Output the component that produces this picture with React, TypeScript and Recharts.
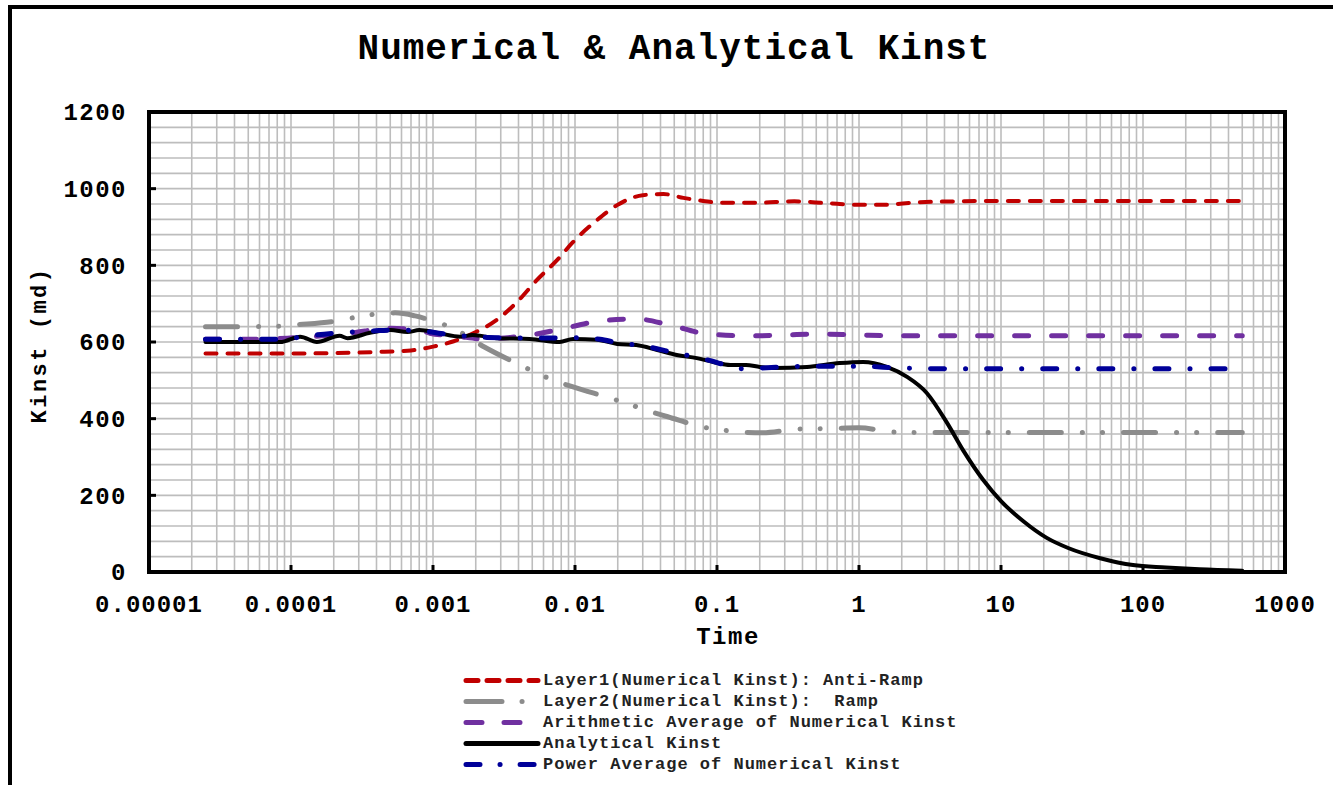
import React from 'react';
import { LineChart, Line, XAxis, YAxis, CartesianGrid, ReferenceArea, Legend, Label } from 'recharts';

// ---------- data ----------
const layer1Time = [2.5e-5, 5e-5, 1e-4, 2e-4, 4e-4, 7e-4, 1e-3, 1.4e-3, 1.9e-3, 2.8e-3, 3.9e-3, 5.4e-3, 7.5e-3, 9.7e-3, 0.0143, 0.0198, 0.03, 0.042, 0.058, 0.08, 0.105, 0.19, 0.35, 0.6, 1.0, 1.5, 2.5, 5, 10, 30, 100, 500];
const layer1Kinst = [570, 570, 570, 571, 574, 578, 588, 602, 622, 657, 704, 762, 814, 861, 918, 957, 983, 986, 976, 968, 963, 963, 967, 962, 958, 958, 964, 967, 968, 968, 968, 968];

const layer2Time = [2.5e-5, 5e-5, 8e-5, 1.1e-4, 2.1e-4, 2.9e-4, 4e-4, 5.4e-4, 7.5e-4, 1e-3, 1.36e-3, 2.3e-3, 4.1e-3, 5.4e-3, 7.3e-3, 9.7e-3, 0.0175, 0.024, 0.033, 0.045, 0.08, 0.11, 0.15, 0.21, 0.38, 0.6, 1.0, 1.8, 3, 10, 100, 500];
const layer2Kinst = [640, 640, 641, 645, 655, 665, 673, 676, 668, 655, 637, 587, 540, 519, 498, 483, 454, 438, 420, 405, 378, 370, 365, 363, 373, 374, 376, 365, 364, 364, 364, 364];

const arithTime = [2.5e-5, 5e-5, 9.4e-5, 1.5e-4, 2.6e-4, 5e-4, 8e-4, 9.5e-4, 1.5e-3, 2.25e-3, 3.5e-3, 4.8e-3, 9.2e-3, 0.015, 0.027, 0.047, 0.085, 0.17, 0.3, 0.5, 1, 2, 5, 500];
const arithKinst = [607, 607, 610, 615, 623, 636, 631, 623, 615, 608, 612, 618, 639, 655, 660, 644, 621, 616, 618, 621, 618, 616, 616, 616];

const analyticTime = [2.5e-5, 5e-5, 8.4e-5, 1.16e-4, 1.52e-4, 2.2e-4, 2.5e-4, 3.6e-4, 5e-4, 6.6e-4, 8e-4, 1.1e-3, 1.55e-3, 1.9e-3, 2.8e-3, 4.8e-3, 7.8e-3, 9.7e-3, 0.0143, 0.0198, 0.027, 0.038, 0.052, 0.072, 0.094, 0.124, 0.16, 0.2, 0.25, 0.43, 0.73, 1.07, 1.57, 2.18, 3.0, 4.17, 5.4, 7.5, 10, 14.3, 21, 30, 50, 85, 145, 250, 500];
const analyticKinst = [600, 600, 600, 614, 600, 616, 610, 624, 631, 626, 631, 623, 614, 618, 610, 608, 600, 608, 606, 595, 592, 579, 566, 558, 548, 540, 540, 535, 532, 535, 545, 548, 535, 509, 467, 389, 318, 240, 185, 133, 89, 62, 36, 18, 12, 7, 3];

const powerTime = [2.5e-5, 5e-5, 9e-5, 1.2e-4, 2e-4, 3.8e-4, 5.2e-4, 8e-4, 1.1e-3, 2.4e-3, 5e-3, 9.7e-3, 0.015, 0.02, 0.03, 0.05, 0.08, 0.12, 0.146, 0.2, 0.5, 1, 2, 5, 500];
const powerKinst = [607, 607, 607, 614, 623, 629, 631, 630, 623, 612, 610, 611, 607, 598, 590, 572, 556, 538, 530, 532, 537, 537, 532, 530, 530];

const seriesNames = [
  'Layer1(Numerical Kinst): Anti-Ramp',
  'Layer2(Numerical Kinst):  Ramp',
  'Arithmetic Average of Numerical Kinst',
  'Analytical Kinst',
  'Power Average of Numerical Kinst',
];

const xDecadeTicks = [0.00001, 0.0001, 0.001, 0.01, 0.1, 1, 10, 100, 1000];
const xDecadeLabels = ['0.00001', '0.0001', '0.001', '0.01', '0.1', '1', '10', '100', '1000'];
const yMajorTicks = [0, 200, 400, 600, 800, 1000, 1200];

// grid ticks (all 1..9 x 10^n, and every 40 md)
const xGridTicks: number[] = [];
for (let e = -5; e <= 2; e++) {
  for (let m = 1; m <= 9; m++) xGridTicks.push(Number((m * Math.pow(10, e)).toPrecision(6)));
}
xGridTicks.push(1000);
const yGridTicks: number[] = [];
for (let v = 0; v <= 1200; v += 40) yGridTicks.push(v);

const zip = (t: number[], k: number[]) => t.map((x, i) => ({ t: x, k: k[i] }));

const FONT = '"Liberation Mono", "Courier New", monospace';

const styles = [
  { color: '#C00000', width: 4, dash: '11 11' },
  { color: '#8C8C8C', width: 5, dash: '32 21 0.1 20 0.1 21' },
  { color: '#7030A0', width: 5, dash: '14 23' },
  { color: '#000000', width: 4, dash: undefined as string | undefined },
  { color: '#000099', width: 5, dash: '14 21 0.1 21' },
];
const legendDash = ['12 9', '36 20 0.1 40', '16 22', undefined, '14 20 0.1 20'];

const seriesData = [
  zip(layer1Time, layer1Kinst),
  zip(layer2Time, layer2Kinst),
  zip(arithTime, arithKinst),
  zip(analyticTime, analyticKinst),
  zip(powerTime, powerKinst),
];

const isDecade = (v: number) => Math.abs(Math.log10(v) - Math.round(Math.log10(v))) < 1e-6;

const XTick = (props: any) => {
  const { x, y, payload } = props;
  const v = payload.value;
  if (!isDecade(v)) return <g />;
  const idx = xDecadeTicks.findIndex((d) => Math.abs(Math.log10(d) - Math.log10(v)) < 1e-6);
  return (
    <g>
      <line x1={x} x2={x} y1={y - 7} y2={y} stroke="#000" strokeWidth={3} />
      <text x={x} y={y + 40} textAnchor="middle" fontFamily={FONT} fontWeight="bold" fontSize={24} letterSpacing={1} fill="#000">
        {xDecadeLabels[idx]}
      </text>
    </g>
  );
};

const YTick = (props: any) => {
  const { x, y, payload } = props;
  const v = payload.value;
  if (!yMajorTicks.includes(v)) return <g />;
  return (
    <g>
      <line x1={x} x2={x + 7} y1={y} y2={y} stroke="#000" strokeWidth={3} />
      <text x={x - 22} y={y} dy="0.35em" textAnchor="end" fontFamily={FONT} fontWeight="bold" fontSize={24} letterSpacing={1.5} fill="#000">
        {v}
      </text>
    </g>
  );
};

const renderLegend = () => (
  <div style={{ fontFamily: FONT }}>
    {seriesNames.map((n, i) => (
      <div key={n} style={{ display: 'flex', alignItems: 'center', height: 21 }}>
        <svg width={80} height={21} style={{ display: 'block' }}>
          <line x1={4} x2={76} y1={10.5} y2={10.5} stroke={styles[i].color} strokeWidth={5} strokeLinecap="round" strokeDasharray={legendDash[i]} />
        </svg>
        <span style={{ fontSize: 17, fontWeight: 'bold', letterSpacing: 1, color: '#222', whiteSpace: 'pre', marginLeft: 1 }}>{n}</span>
      </div>
    ))}
  </div>
);

export default function App() {
  return (
    <div style={{ position: 'absolute', left: 0, top: 0, width: 1333, height: 785, overflow: 'hidden', background: '#fff' }}>
      <div style={{ position: 'absolute', left: 8, top: 5, width: 1400, height: 900, border: '4px solid #000', boxSizing: 'border-box' }} />
      <div style={{ position: 'absolute', left: 0, top: 32, width: 1348, textAlign: 'center', fontFamily: FONT, fontWeight: 'bold', fontSize: 36, lineHeight: '36px', letterSpacing: 1, color: '#000' }}>
        Numerical &amp; Analytical Kinst
      </div>
      <div style={{ position: 'absolute', left: 0, top: 0 }}>
        <LineChart width={1333} height={785} margin={{ top: 112, right: 48, bottom: 0, left: 0 }}>
          <CartesianGrid stroke="#BDBDBD" strokeWidth={1.6} />
          <XAxis
            dataKey="t"
            type="number"
            scale="log"
            domain={[0.00001, 1000]}
            allowDataOverflow
            ticks={xGridTicks}
            interval={0}
            tick={<XTick />}
            tickLine={false}
            axisLine={false}
            tickSize={0}
            tickMargin={0}
            height={213}
          >
            <Label
              content={(p: any) => {
                const vb = p.viewBox;
                return (
                  <text x={vb.x + vb.width / 2 + 11} y={vb.y + 72} textAnchor="middle" fontFamily={FONT} fontWeight="bold" fontSize={24} letterSpacing={1.5} fill="#000">
                    Time
                  </text>
                );
              }}
            />
          </XAxis>
          <YAxis
            type="number"
            domain={[0, 1200]}
            ticks={yGridTicks}
            interval={0}
            tick={<YTick />}
            tickLine={false}
            axisLine={false}
            tickSize={0}
            tickMargin={0}
            width={149}
          >
            <Label
              content={(p: any) => {
                const vb = p.viewBox;
                const cx = 46;
                const cy = vb.y + vb.height / 2 + 3;
                return (
                  <text x={cx} y={cy} transform={`rotate(-90, ${cx}, ${cy})`} textAnchor="middle" fontFamily={FONT} fontWeight="bold" fontSize={22} letterSpacing={2.5} fill="#000">
                    Kinst (md)
                  </text>
                );
              }}
            />
          </YAxis>
          {seriesData.map((d, i) => (
            <Line
              key={seriesNames[i]}
              name={seriesNames[i]}
              data={d}
              dataKey="k"
              type="monotone"
              stroke={styles[i].color}
              strokeWidth={styles[i].width}
              strokeDasharray={styles[i].dash}
              strokeLinecap="round"
              dot={false}
              activeDot={false}
              isAnimationActive={false}
            />
          ))}
          <ReferenceArea x1={0.00001} x2={1000} y1={0} y2={1200} fill="none" fillOpacity={0} stroke="#000" strokeWidth={4} ifOverflow="visible" />
          <Legend
            layout="vertical"
            verticalAlign="middle"
            align="center"
            content={renderLegend}
            wrapperStyle={{ left: 462, top: 670, width: 560, height: 110 }}
          />
        </LineChart>
      </div>
    </div>
  );
}
